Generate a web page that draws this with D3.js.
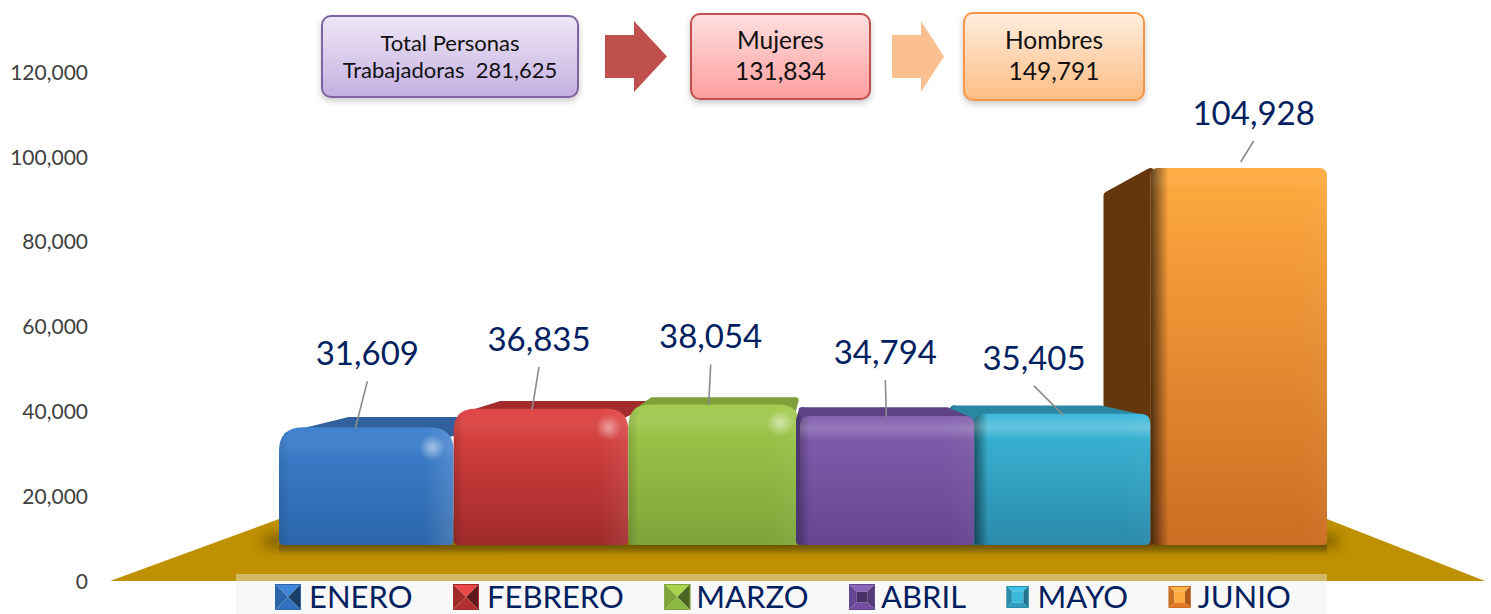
<!DOCTYPE html>
<html>
<head>
<meta charset="utf-8">
<script src="https://cdn.jsdelivr.net/npm/d3@7"></script>
<style>
html, body { margin: 0; padding: 0; background: #fff; overflow: hidden; }
svg { display: block; }
text { font-family: Lato, "Open Sans", sans-serif; }
</style>
</head>
<body>
<script>
var months = ["ENERO", "FEBRERO", "MARZO", "ABRIL", "MAYO", "JUNIO"];
var values = [31609, 36835, 38054, 34794, 35405, 104928];
var yTicks = [0, 20000, 40000, 60000, 80000, 100000, 120000];
var totalPersonas = 281625;
var totalMujeres = 131834;
var totalHombres = 149791;

var width = 1491, height = 614;
var fmt = d3.format(",");

//Colours of each bar: front top, front bottom, top face, side face.
var frontTop = ["#3d80cf", "#e04444", "#a0ca4a", "#8360ae", "#3bb8da", "#ffaa40"];
var frontBottom = ["#2c66aa", "#a02a2a", "#7ea43a", "#664590", "#2a8aa9", "#cb6d22"];
var topFace = ["#31609f", "#a32c2c", "#7f9f3a", "#5e4186", "#2a87a3", "#ff9a30"];
var sideFace = ["#2a5488", "#8c2626", "#6c8a32", "#4e3670", "#1f6f88", "#65370f"];
var corner = [24, 22, 22, 9, 10, 8];
var leftShade = [0.1, 0.14, 0.14, 0.24, 0.5, 0.65];
var leftWidth = [10, 10, 10, 10, 14, 18];
var rightLight = [0.14, 0.08, 0.06, 0.04, 0.03, 0.03];
var shine = [0.05, 0.05, 0.1, 0.18, 0.22, 0.05];
var spot = [0.5, 0.45, 0.5, 0, 0, 0];

//Small corrections so the bar edges land where they do in the picture.
var edgeNudge = [0, 0, 0, -3, -3.5, -2, 0];

//Where the value labels and leaders sit relative to each bar.
var labelDx = [1, -2, -5, -5, -31, 14];
var labelDy = [74, 70, 68, 64, 56, 55];
var leaderDx = [-11, -9, -7, -4, -2, 1];
var leaderDy = [1, 1, 1, 1, 1, -6];
var swatchSize = [26, 26, 26, 26, 22, 22];
var swatchGap = [8, 8, 6, 6, 9, 7];
var swatchInset = [0, 0, 0, 0.3, 0.24, 0.26];

var svg = d3.select("body").append("svg").attr("width", width).attr("height", height);
var defs = svg.append("defs");

var y = d3.scaleLinear().domain([0, 120000]).range([581, 72]);
var x = d3.scaleBand().domain(months).range([279, 1327]);
var barTop = d3.scaleLinear().domain([0, 104928]).range([539, 168]);
var barBase = 545;

function barLeft(i) { return x(months[i]) + edgeNudge[i]; }
function barRight(i) { return x(months[i]) + x.bandwidth() + edgeNudge[i + 1]; }

//Perspective: points slide towards this spot as they go back.
var vanishX = 790, vanishY = 349, depth = 0.13;
function backX(px) { return px + depth * (vanishX - px); }
function backY(py) { return py + depth * (vanishY - py); }

function gradient(id, dir, stops) {
	var g = defs.append("linearGradient").attr("id", id)
		.attr("x1", 0).attr("y1", 0)
		.attr("x2", dir == "h" ? 1 : 0).attr("y2", dir == "h" ? 0 : 1);
	stops.forEach(function(s) {
		g.append("stop").attr("offset", s[0]).attr("stop-color", s[1]).attr("stop-opacity", s[2] === undefined ? 1 : s[2]);
	});
}

months.forEach(function(m, i) {
	gradient("front" + i, "v", [[0, frontTop[i]], [1, frontBottom[i]]]);
	gradient("left" + i, "h", [[0, "#000", leftShade[i]], [1, "#000", 0]]);
	gradient("right" + i, "h", [[0, "#fff", 0], [1, "#fff", rightLight[i]]]);
	gradient("shine" + i, "v", [[0, "#fff", 0.02], [0.5, "#fff", shine[i]], [1, "#fff", 0]]);
});
gradient("boxTotal", "v", [[0, "#efe8f7"], [1, "#c4afe1"]]);
gradient("boxMujeres", "v", [[0, "#ffdfdf"], [1, "#ff9e9e"]]);
gradient("boxHombres", "v", [[0, "#ffeedf"], [1, "#ffbd84"]]);
gradient("floorShade", "v", [[0, "#5f4a00", 0.75], [1, "#5f4a00", 0]]);

var rg = defs.append("radialGradient").attr("id", "spot");
rg.append("stop").attr("offset", 0).attr("stop-color", "#fff").attr("stop-opacity", 1);
rg.append("stop").attr("offset", 1).attr("stop-color", "#fff").attr("stop-opacity", 0);

var blur = defs.append("filter").attr("id", "blur").attr("x", "-10%").attr("y", "-100%").attr("width", "120%").attr("height", "300%");
blur.append("feGaussianBlur").attr("stdDeviation", 6);
var soft = defs.append("filter").attr("id", "soft").attr("x", "-10%").attr("y", "-20%").attr("width", "120%").attr("height", "150%");
soft.append("feDropShadow").attr("dx", 0).attr("dy", 3).attr("stdDeviation", 3).attr("flood-color", "#000").attr("flood-opacity", 0.22);

//Axis, no line and no ticks.
var axis = d3.axisLeft(y).tickValues(yTicks).tickFormat(fmt).tickSize(0).tickPadding(0);
var axisG = svg.append("g").attr("transform", "translate(88,0.5)").call(axis);
axisG.select(".domain").remove();
axisG.selectAll("text").style("font-size", "21px").style("font-family", "Lato, sans-serif").attr("fill", "#404040");

//Floor.
var floorLine = d3.line();
var floorShape = floorLine([[110, 581], [279, 519], [1327, 519], [1485, 581]]) + "Z";
svg.append("path").attr("d", floorShape).attr("fill", "#bf9000");
defs.append("clipPath").attr("id", "floorClip").append("path").attr("d", floorShape);
var floorG = svg.append("g").attr("clip-path", "url(#floorClip)");
floorG.append("rect").attr("x", 264).attr("y", 534).attr("width", 1074).attr("height", 14)
	.attr("fill", "#4f3d00").attr("opacity", 0.5).attr("filter", "url(#blur)");
floorG.append("rect").attr("x", 279).attr("y", 545).attr("width", 1048).attr("height", 10)
	.attr("fill", "url(#floorShade)");

function frontPath(x0, x1, top, r) {
	var b = 5;
	return "M" + x0 + "," + (barBase - b) +
		"L" + x0 + "," + (top + r) +
		"Q" + x0 + "," + top + " " + (x0 + r) + "," + top +
		"L" + (x1 - r) + "," + top +
		"Q" + x1 + "," + top + " " + x1 + "," + (top + r) +
		"L" + x1 + "," + (barBase - b) +
		"Q" + x1 + "," + barBase + " " + (x1 - b) + "," + barBase +
		"L" + (x0 + b) + "," + barBase +
		"Q" + x0 + "," + barBase + " " + x0 + "," + (barBase - b) + "Z";
}

//Bars left of the vanishing point go left to right, the others right to left.
var order = [0, 1, 2, 5, 4, 3];
var bars = svg.selectAll("g.bar").data(order).enter().append("g").attr("class", "bar");

bars.each(function(i) {
	var g = d3.select(this);
	var x0 = barLeft(i), x1 = barRight(i);
	var top = barTop(values[i]);
	var r = corner[i];
	var rightSide = x0 >= vanishX - 1;

	//Side face of the bars right of the vanishing point; those on the left hide it behind the next bar.
	if (rightSide) {
		g.append("path")
			.attr("d", d3.line()([[x0, top + 4], [backX(x0) + 4, backY(top) + 4], [backX(x0) + 4, backY(barBase) - 4], [x0, barBase - 4]]) + "Z")
			.attr("fill", sideFace[i]).attr("stroke", sideFace[i]).attr("stroke-width", 8).attr("stroke-linejoin", "round");
	}

	//Top face, only seen when the bar top is below the horizon.
	if (backY(top) < top) {
		var bx0 = backX(x0) + 3, bx1 = backX(x1) - 3, by = backY(top) + 3;
		g.append("path")
			.attr("d", d3.line()([[x0 + r * 0.25 + 2, top + r * 0.25 + 2], [bx0, by], [bx1, by], [x1 - r * 0.25 - 2, top + r * 0.25 + 2]]) + "Z")
			.attr("fill", topFace[i]).attr("stroke", topFace[i]).attr("stroke-width", 6).attr("stroke-linejoin", "round");
	}

	//Front face with its bevels.
	var d = frontPath(x0, x1, top, r);
	defs.append("clipPath").attr("id", "clip" + i).append("path").attr("d", d);
	g.append("path").attr("d", d).attr("fill", "url(#front" + i + ")");

	var over = g.append("g").attr("clip-path", "url(#clip" + i + ")");
	over.append("rect").attr("x", x0).attr("y", top).attr("width", leftWidth[i]).attr("height", barBase - top).attr("fill", "url(#left" + i + ")");
	over.append("rect").attr("x", x1 - 30).attr("y", top).attr("width", 30).attr("height", barBase - top).attr("fill", "url(#right" + i + ")");
	over.append("rect").attr("x", x0).attr("y", top + 1).attr("width", x1 - x0).attr("height", r * 0.6 + 18).attr("fill", "url(#shine" + i + ")");
	if (spot[i] > 0) {
		over.append("circle").attr("cx", x1 - r * 0.9).attr("cy", top + r * 0.85).attr("r", 13)
			.attr("fill", "url(#spot)").attr("opacity", spot[i]);
	}
});

//Value labels and leaders.
months.forEach(function(m, i) {
	var cx = x(m) + x.bandwidth() / 2;
	var top = barTop(values[i]);
	var lx = cx + labelDx[i], ly = top - labelDy[i];
	svg.append("line")
		.attr("x1", lx).attr("y1", ly + 28)
		.attr("x2", cx + leaderDx[i]).attr("y2", top + leaderDy[i])
		.attr("stroke", "#8c8c8c").attr("stroke-width", 1.6);
	svg.append("text").attr("x", lx).attr("y", ly + 12).attr("text-anchor", "middle")
		.attr("fill", "#002060").style("font-size", "33px").text(fmt(values[i]));
});

//Legend strip.
svg.append("rect").attr("x", 236).attr("y", 574).attr("width", 1091).attr("height", 7).attr("fill", "#d4b965");
svg.append("rect").attr("x", 236).attr("y", 581).attr("width", 1091).attr("height", 33).attr("fill", "#f8f8f8");

var legendX = 275, legendMid = 597;
months.forEach(function(m, i) {
	var s = swatchSize[i];
	var sy = legendMid - s / 2;
	var a = s * swatchInset[i], b = s - a;
	var mid = s / 2;
	var inA = swatchInset[i] > 0 ? a : mid, inB = swatchInset[i] > 0 ? b : mid;
	var g = svg.append("g").attr("transform", "translate(" + legendX + "," + sy + ")");
	var top = d3.rgb(frontTop[i]).brighter(0.15), base = d3.rgb(frontBottom[i]);
	g.append("path").attr("d", d3.line()([[0, 0], [s, 0], [inB, inA], [inA, inA]]) + "Z").attr("fill", top);
	g.append("path").attr("d", d3.line()([[0, 0], [0, s], [inA, inB], [inA, inA]]) + "Z").attr("fill", frontBottom[i]);
	g.append("path").attr("d", d3.line()([[s, 0], [s, s], [inB, inB], [inB, inA]]) + "Z").attr("fill", base.darker(swatchInset[i] > 0 ? 0.5 : 1.4));
	g.append("path").attr("d", d3.line()([[0, s], [s, s], [inB, inB], [inA, inB]]) + "Z").attr("fill", base.brighter(0.3));
	if (swatchInset[i] > 0) {
		g.append("rect").attr("x", inA).attr("y", inA).attr("width", inB - inA).attr("height", inB - inA)
			.attr("fill", i == 3 ? base.darker(0.9) : frontTop[i]);
	}
	g.append("rect").attr("x", 0.5).attr("y", 0.5).attr("width", s - 1).attr("height", s - 1)
		.attr("fill", "none").attr("stroke", frontBottom[i]);
	var t = svg.append("text").attr("x", legendX + s + swatchGap[i]).attr("y", legendMid + 11)
		.attr("fill", "#002060").style("font-size", "31px").text(m);
	legendX += s + swatchGap[i] + t.node().getComputedTextLength() + 40.5;
});

//Summary boxes and arrows on top.
function box(x0, y0, w, h, fill, stroke, lines, size, lineY) {
	svg.append("rect").attr("x", x0).attr("y", y0).attr("width", w).attr("height", h).attr("rx", 9)
		.attr("fill", "url(#" + fill + ")").attr("stroke", stroke).attr("stroke-width", 2).attr("filter", "url(#soft)");
	lines.forEach(function(l, k) {
		svg.append("text").attr("x", x0 + w / 2).attr("y", lineY[k]).attr("text-anchor", "middle")
			.attr("fill", "#111").style("font-size", size + "px").style("white-space", "pre").text(l);
	});
}
function arrow(x0, x1, neck, fill) {
	svg.append("path")
		.attr("d", d3.line()([[x0, 35], [neck, 35], [neck, 21], [x1, 56.5], [neck, 92], [neck, 78], [x0, 78]]) + "Z")
		.attr("fill", fill);
}

box(322, 16, 256, 81, "boxTotal", "#8064a2", ["Total Personas", "Trabajadoras  " + fmt(totalPersonas)], 22, [51, 78]);
arrow(605, 667, 634, "#c0504d");
box(691, 14, 179, 85, "boxMujeres", "#c0504d", ["Mujeres", fmt(totalMujeres)], 24.5, [49, 80]);
arrow(892, 944, 921, "#fac090");
box(964, 13, 180, 87, "boxHombres", "#f79646", ["Hombres", fmt(totalHombres)], 24.5, [49, 80]);
</script>
</body>
</html>
